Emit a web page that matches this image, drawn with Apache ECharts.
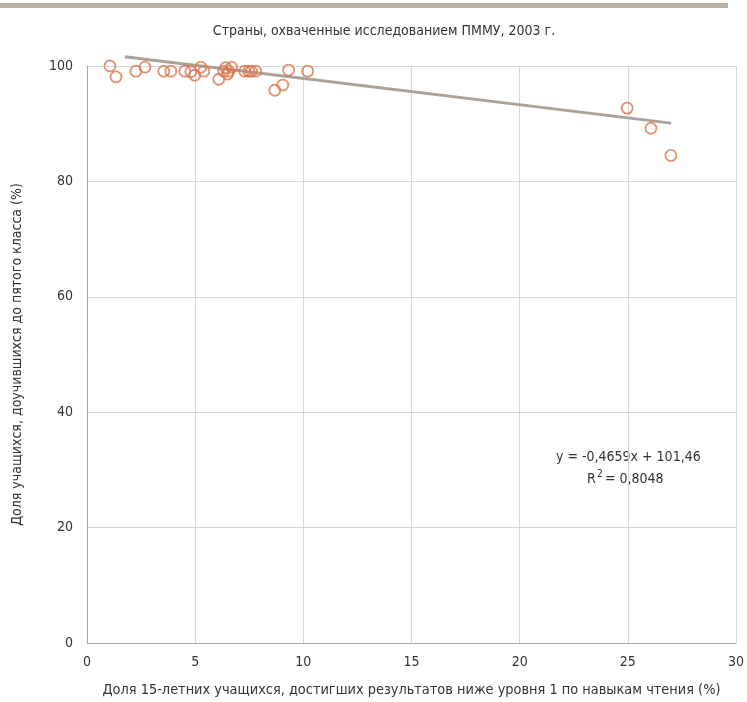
<!DOCTYPE html>
<html>
<head>
<meta charset="utf-8">
<script src="https://cdn.jsdelivr.net/npm/echarts@6/dist/echarts.min.js"></script>
<style>
  html, body { margin: 0; padding: 0; background: #fff; }
  #chart { width: 747px; height: 702px; }
</style>
</head>
<body>
<div id="chart"></div>
<script>
  // x: share of 15-year-olds below reading level 1 (%), y: share reaching grade 5 (%)
  var pointsX = [1.06, 1.34, 2.26, 2.68, 3.55, 3.88, 4.52, 4.8, 4.98, 5.26, 5.4, 6.09, 6.32, 6.41, 6.5, 6.69, 6.55,
                 7.29, 7.48, 7.6, 7.8, 8.68, 9.05, 9.32, 10.2, 24.97, 26.07, 26.99];
  var pointsY = [100.0, 98.1, 99.1, 99.8, 99.1, 99.1, 99.1, 99.0, 98.4, 99.8, 99.1, 97.7, 99.1, 99.7, 98.6, 99.8, 99.1,
                 99.1, 99.1, 99.1, 99.1, 95.8, 96.7, 99.3, 99.1, 92.7, 89.2, 84.5];
  var trendX = [1.75, 27.0];
  var trendY = [101.6, 90.1];
  var xTicks = [0, 5, 10, 15, 20, 25, 30];
  var yTicks = [0, 20, 40, 60, 80, 100];

  var FONT = '"Liberation Sans Narrow", "DejaVu Sans Condensed", Roboto, sans-serif';
  var TXT = '#333';

  var chart = echarts.init(document.getElementById('chart'));

  var scatterData = pointsX.map(function (x, i) { return [x, pointsY[i]]; });
  var trendData = trendX.map(function (x, i) { return [x, trendY[i]]; });

  var option = {
    animation: false,
    textStyle: { fontFamily: FONT },
    title: {
      text: 'Страны, охваченные исследованием ПММУ, 2003 г.',
      left: 379,
      top: 19,
      textAlign: 'center',
      textStyle: { fontFamily: FONT, fontSize: 14, fontWeight: 'normal', color: TXT }
    },
    graphic: [
      {
        type: 'rect',
        shape: { x: 0, y: 3, width: 728, height: 5 },
        style: { fill: '#b9b1a8' },
        silent: true
      },
      {
        type: 'text',
        left: 556,
        top: 450,
        style: { text: 'y = -0,4659x + 101,46', font: '14px ' + FONT, fill: TXT }
      },
      {
        type: 'text',
        left: 587,
        top: 472,
        style: { text: 'R', font: '14px ' + FONT, fill: TXT }
      },
      {
        type: 'text',
        left: 597,
        top: 469,
        style: { text: '2', font: '10px ' + FONT, fill: TXT }
      },
      {
        type: 'text',
        left: 605,
        top: 472,
        style: { text: '= 0,8048', font: '14px ' + FONT, fill: TXT }
      }
    ],
    grid: { left: 87, right: 10, top: 66, bottom: 59 },
    xAxis: {
      type: 'value',
      min: xTicks[0],
      max: xTicks[xTicks.length - 1],
      interval: 5,
      name: 'Доля 15-летних учащихся, достигших результатов ниже уровня 1 по навыкам чтения (%)',
      nameLocation: 'middle',
      nameGap: 40,
      nameTextStyle: { fontFamily: FONT, fontSize: 14.4, color: TXT },
      axisLine: { lineStyle: { color: '#a6a6a6', width: 1 } },
      axisTick: { show: false },
      axisLabel: { fontFamily: FONT, fontSize: 14, color: TXT, margin: 12 },
      splitLine: { show: true, lineStyle: { color: '#d6d6d6', width: 1 } }
    },
    yAxis: {
      type: 'value',
      min: yTicks[0],
      max: yTicks[yTicks.length - 1],
      interval: 20,
      name: 'Доля учащихся, доучившихся до пятого класса (%)',
      nameLocation: 'middle',
      nameGap: 63,
      nameTextStyle: { fontFamily: FONT, fontSize: 14, color: TXT },
      axisLine: { show: true, lineStyle: { color: '#a6a6a6', width: 1 } },
      axisTick: { show: false },
      axisLabel: { fontFamily: FONT, fontSize: 14, color: TXT, margin: 14 },
      splitLine: { show: true, lineStyle: { color: '#d6d6d6', width: 1 } }
    },
    series: [
      {
        type: 'line',
        data: trendData,
        clip: false,
        symbol: 'none',
        lineStyle: { color: '#aaa299', width: 3 },
        z: 1,
        silent: true
      },
      {
        type: 'scatter',
        data: scatterData,
        clip: false,
        symbol: 'circle',
        symbolSize: 11,
        itemStyle: { color: 'rgba(255,255,255,0)', borderColor: '#dc7550', borderWidth: 1.8 },
        z: 2
      }
    ]
  };

  chart.setOption(option);
</script>
</body>
</html>
